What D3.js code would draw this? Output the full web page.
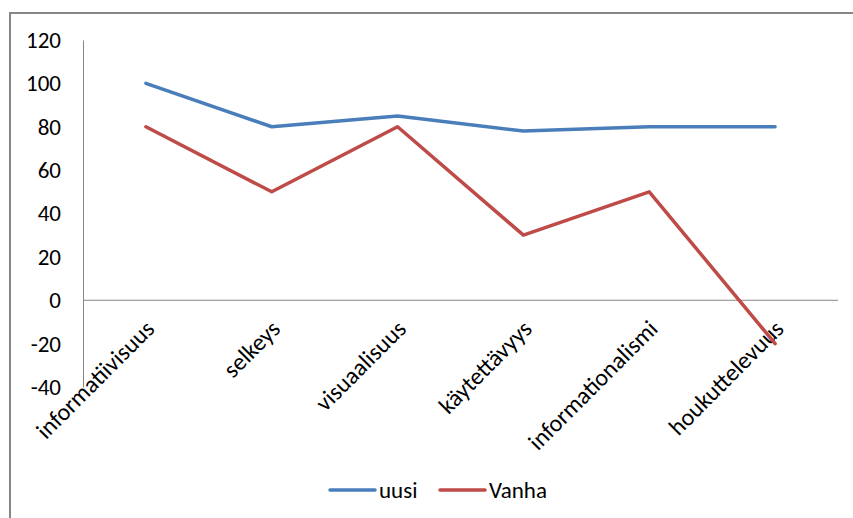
<!DOCTYPE html>
<html>
<head>
<meta charset="utf-8">
<script src="https://cdn.jsdelivr.net/npm/d3@7"></script>
<style>
  body { margin: 0; background: #fff; }
  svg { display: block; font-family: Carlito, "Liberation Sans", "Open Sans", sans-serif; }
</style>
</head>
<body>
<svg width="853" height="518"></svg>
<script>
const categories = ["informatiivisuus", "selkeys", "visuaalisuus", "käytettävyys", "informationalismi", "houkuttelevuus"]
const uusi = [100, 80, 85, 78, 80, 80]
const vanha = [80, 50, 80, 30, 50, -20]
const yTicks = [-40, -20, 0, 20, 40, 60, 80, 100, 120]

const series = [
  { name: "uusi", values: uusi, color: "#4a7ebb" },
  { name: "Vanha", values: vanha, color: "#be4b48" }
]

const svg = d3.select("svg")

// chart frame
svg.append("rect")
  .attr("x", 10)
  .attr("y", 13)
  .attr("width", 880)
  .attr("height", 540)
  .attr("fill", "none")
  .attr("stroke", "#868686")
  .attr("stroke-width", 2)

const scaleX = d3.scaleBand()
  .domain(categories)
  .range([83, 838])

const scaleY = d3.scaleLinear()
  .domain([-40, 120])
  .range([387, 40])

// y axis
const axisY = d3.axisLeft(scaleY)
  .tickValues(yTicks)
  .tickFormat(d => String(d))
  .tickSize(0)
  .tickPadding(22)

const yGroup = svg.append("g")
  .attr("transform", "translate(83, 0)")
  .call(axisY)
  .attr("font-family", null)
  .attr("font-size", null)

yGroup.select(".domain").attr("stroke", "#868686")
yGroup.selectAll("text")
  .attr("font-size", 23)
  .attr("fill", "#000")

// zero line
svg.append("line")
  .attr("x1", 83)
  .attr("x2", 838)
  .attr("y1", scaleY(0))
  .attr("y2", scaleY(0))
  .attr("stroke", "#868686")

// category labels
svg.selectAll("text.cat")
  .data(categories)
  .enter()
  .append("text")
  .attr("class", "cat")
  .attr("text-anchor", "end")
  .attr("font-size", 24)
  .attr("transform", d => {
    const x = scaleX(d) + scaleX.bandwidth() / 2 + 10
    return `translate(${x}, ${scaleY(0) + 30}) rotate(-45)`
  })
  .text(d => d)

// lines
const line = d3.line()
  .x((d, i) => scaleX(categories[i]) + scaleX.bandwidth() / 2)
  .y(d => scaleY(d))

svg.selectAll("path.series")
  .data(series)
  .enter()
  .append("path")
  .attr("class", "series")
  .attr("d", d => line(d.values))
  .attr("fill", "none")
  .attr("stroke", d => d.color)
  .attr("stroke-width", 3.5)
  .attr("stroke-linecap", "round")
  .attr("stroke-linejoin", "round")

// legend
const legend = svg.selectAll("g.legend")
  .data(series)
  .enter()
  .append("g")
  .attr("class", "legend")
  .attr("transform", (d, i) => `translate(${330 + i * 110}, 490)`)

legend.append("line")
  .attr("x1", 0)
  .attr("x2", 45)
  .attr("stroke", d => d.color)
  .attr("stroke-width", 3.5)
  .attr("stroke-linecap", "round")

legend.append("text")
  .attr("x", 49)
  .attr("y", 8)
  .attr("font-size", 23)
  .text(d => d.name)
</script>
</body>
</html>
